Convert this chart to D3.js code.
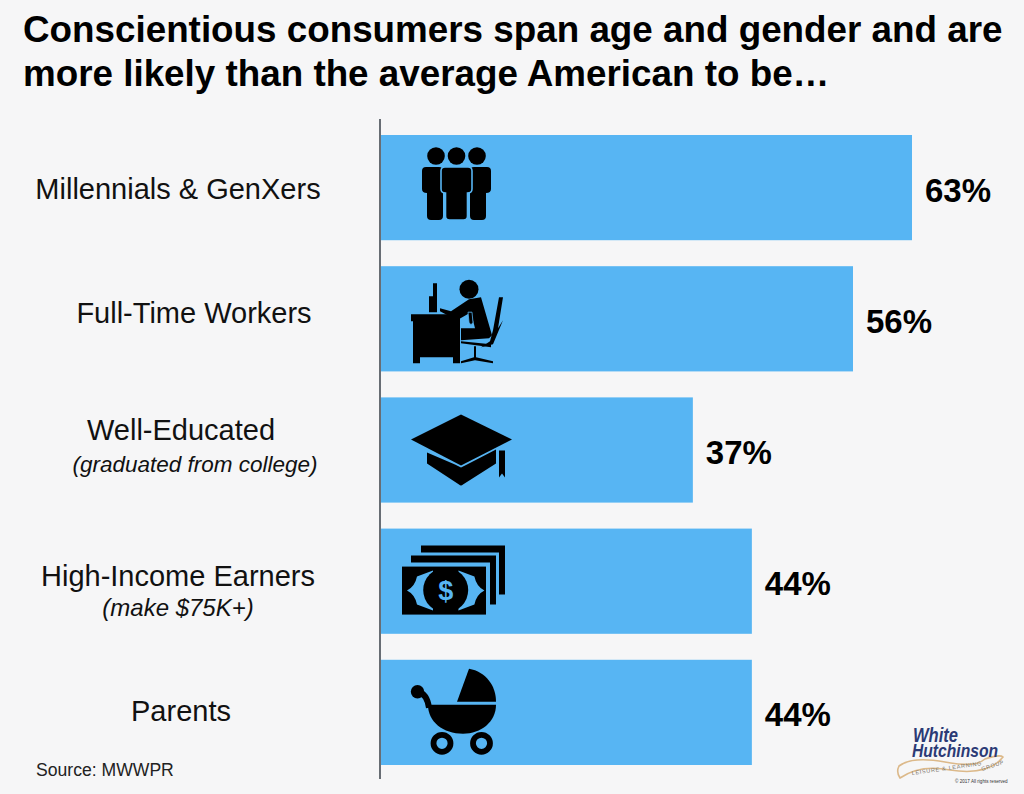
<!DOCTYPE html>
<html>
<head>
<meta charset="utf-8">
<script src="https://cdn.jsdelivr.net/npm/d3@7"></script>
<style>
  html, body { margin: 0; padding: 0; background: #f6f6f7; }
  svg { display: block; font-family: "Liberation Sans", Arial, sans-serif; }
</style>
</head>
<body>
<div id="chart"></div>
<script>
const titleLines = [
  "Conscientious consumers span age and gender and are",
  "more likely than the average American to be…"
]
const categories = ["Millennials & GenXers", "Full-Time Workers", "Well-Educated", "High-Income Earners", "Parents"]
const subLabels = ["", "", "(graduated from college)", "(make $75K+)", ""]
const values = [63, 56, 37, 44, 44]
const iconNames = ["people", "worker", "cap", "money", "pram"]

const width = 1024
const height = 794
const blue = "#57b5f3"

const svg = d3.select("#chart").append("svg")
  .attr("width", width)
  .attr("height", height)

svg.append("rect").attr("width", width).attr("height", height).attr("fill", "#f6f6f7")

svg.selectAll("text.title")
  .data(titleLines)
  .join("text")
  .attr("class", "title")
  .attr("x", 23)
  .attr("y", (d, i) => 42 + i * 44)
  .attr("font-size", 36.8)
  .attr("font-weight", "bold")
  .attr("fill", "#000")
  .text(d => d)

const x = d3.scaleLinear().domain([0, 63]).range([381, 912])
const y = d3.scaleBand().domain(categories).range([135, 765]).paddingInner(0.198)

svg.selectAll("rect.bar")
  .data(categories)
  .join("rect")
  .attr("class", "bar")
  .attr("x", x(0))
  .attr("y", d => y(d))
  .attr("width", (d, i) => x(values[i]) - x(0))
  .attr("height", y.bandwidth())
  .attr("fill", blue)

// axis line only, labels are centred by hand below
svg.append("line")
  .attr("x1", 380).attr("x2", 380)
  .attr("y1", 119).attr("y2", 779)
  .attr("stroke", "#444b52")
  .attr("stroke-width", 1.6)

svg.selectAll("text.value")
  .data(categories)
  .join("text")
  .attr("class", "value")
  .attr("x", (d, i) => x(values[i]) + 13)
  .attr("y", d => y(d) + y.bandwidth() / 2 + 14)
  .attr("font-size", 33)
  .attr("font-weight", "bold")
  .text((d, i) => values[i] + "%")

// label centres and baselines differ per row in the original slide
const labelCentre = [178, 194, 181, 178, 181]
const labelBase = [199, 323, 440, 586, 721]
const subCentre = [0, 0, 195, 178, 0]
const subBase = [0, 0, 472, 616, 0]
const subSize = [0, 0, 22.5, 24, 0]

svg.selectAll("text.label")
  .data(categories)
  .join("text")
  .attr("class", "label")
  .attr("x", (d, i) => labelCentre[i])
  .attr("y", (d, i) => labelBase[i])
  .attr("text-anchor", "middle")
  .attr("font-size", 29)
  .attr("fill", "#111")
  .text(d => d)

svg.selectAll("text.sub")
  .data(categories.filter((d, i) => subLabels[i]))
  .join("text")
  .attr("class", "sub")
  .attr("x", d => subCentre[categories.indexOf(d)])
  .attr("y", d => subBase[categories.indexOf(d)])
  .attr("text-anchor", "middle")
  .attr("font-size", d => subSize[categories.indexOf(d)])
  .attr("font-style", "italic")
  .attr("fill", "#111")
  .text(d => subLabels[categories.indexOf(d)])

svg.append("text")
  .attr("x", 36).attr("y", 776)
  .attr("font-size", 17.6)
  .attr("fill", "#222")
  .text("Source: MWWPR")

// icons, each path in its own box relative to the top left of its bar
const icons = {
  people(g) {
    // torso plus legs, legs inset on the outer side only for the side figures
    const person = (l, r, insetL, insetR, outline) => {
      const a = l + insetL
      const b = r - insetR
      const shape = g.append("path").attr("d",
        `M${l},36Q${l},32 ${l + 4},32H${r - 4}Q${r},32 ${r},36V54Q${r},58 ${b},58V81Q${b},85 ${b - 4},85H${a + 4}Q${a},85 ${a},81V58Q${l},58 ${l},54Z`)
      if (outline) shape.attr("stroke", blue).attr("stroke-width", 1.6)
    }
    person(41, 62, 5, 0, false)
    person(89, 110, 0, 5, false)
    person(60, 91, 4.5, 4.5, true)
    g.selectAll("circle").data([55, 75.5, 96]).join("circle")
      .attr("cx", d => d).attr("cy", 21).attr("r", 8.8)
  },
  worker(g) {
    // desk, drawers and legs
    g.append("path").attr("d", "M30,48H79V55H79V97H72V91H39V97H32V55H30Z")
    // monitor
    g.append("path").attr("d", "M52,17H56V46H52Z M48,30H52V46H48Z")
    // head and body
    g.append("circle").attr("cx", 88).attr("cy", 23).attr("r", 9.5)
    g.append("path").attr("d", "M59,42L70,45L88,33L100,31L111,69L108,72L80,74V62L94,62L90,46L76,54L59,45Z")
    g.append("path").attr("d", "M87,46H91L92,56L90,59L88,56Z").attr("fill", "#000").attr("stroke", blue).attr("stroke-width", 0.8)
    // chair
    g.append("path").attr("d", "M118,31H122L117,62L122,54L112,78L100,81L109,75L112,64Z")
    g.append("path").attr("d", "M80,75L110,78V81L80,77Z")
    g.append("path").attr("d", "M93,80H95V91L112,95V97L94,94L80,97V95L93,91Z")
  },
  cap(g) {
    g.append("path").attr("d", "M80,17L131,42L80,68L30,42Z")
    g.append("path").attr("d", "M46,55L74,67L80,70L86,67L115,52V66L82,87Q80,89 78,87L46,66Z")
    g.append("path").attr("d", "M118,53H124V80L121,76L118,80Z")
  },
  money(g) {
    g.append("path").attr("d", "M40,17H124V66H118V24H40Z")
    g.append("path").attr("d", "M30,27H115V76H109V34H30Z")
    g.append("rect").attr("x", 21).attr("y", 38).attr("width", 84).attr("height", 48)
    // blue shapes either side of the coin, mirrored about the coin centre
    g.append("path").attr("d", "M26,62Q34,58 36,48L52,42V82L36,76Q34,66 26,62Z").attr("fill", blue)
    g.append("path").attr("d", "M103.4,62Q95.4,58 93.4,48L77.4,42V82L93.4,76Q95.4,66 103.4,62Z").attr("fill", blue)
    g.append("circle").attr("cx", 64.7).attr("cy", 61.5).attr("r", 22.5)
    g.append("text").attr("x", 64.7).attr("y", 71).attr("text-anchor", "middle")
      .attr("font-size", 27).attr("font-weight", "bold").attr("fill", blue).text("$")
  },
  pram(g) {
    g.append("path").attr("d", "M88,9C105,12 115,26 115,42H76Z")
    g.append("path").attr("d", "M47,45H115C115,62 100,74 82,74C62,74 47,62 47,45Z")
    g.append("path").attr("d", "M37,32Q46,34 48,48").attr("fill", "none").attr("stroke", "#000").attr("stroke-width", 6)
    g.append("circle").attr("cx", 36.5).attr("cy", 32).attr("r", 6.7)
    g.selectAll(null).data([61, 100.5]).join("circle")
      .attr("cx", d => d).attr("cy", 83.5).attr("r", 8.5)
      .attr("fill", "none").attr("stroke", "#000").attr("stroke-width", 5.8)
  }
}

iconNames.forEach((name, i) => {
  const g = svg.append("g")
    .attr("transform", `translate(${x(0)},${y(categories[i])})`)
    .attr("fill", "#000")
  icons[name](g)
})

// logo
const logo = svg.append("g")
logo.append("path")
  .attr("d", "M899,766Q912,756 945,762Q975,768 985,759Q1000,754 1003,757Q988,776 950,770Q920,764 900,778Q896,772 899,766Z")
  .attr("fill", "#f6f6f7").attr("stroke", "#dcb98a").attr("stroke-width", 1.6)
logo.append("text").attr("x", 913).attr("y", 742)
  .attr("font-size", 21).attr("font-weight", "bold").attr("font-style", "italic")
  .attr("fill", "#2b3a75").attr("textLength", 45).attr("lengthAdjust", "spacingAndGlyphs").text("White")
logo.append("text").attr("x", 912).attr("y", 757)
  .attr("font-size", 19).attr("font-weight", "bold").attr("font-style", "italic")
  .attr("fill", "#2b3a75").attr("textLength", 86).attr("lengthAdjust", "spacingAndGlyphs").text("Hutchinson")
logo.append("text").attr("x", 912).attr("y", 775)
  .attr("font-size", 5.5).attr("fill", "#77746b").attr("letter-spacing", 0.7)
  .attr("transform", "rotate(-8 912 775)").text("LEISURE & LEARNING")
logo.append("text").attr("x", 982).attr("y", 771)
  .attr("font-size", 5.5).attr("fill", "#77746b").attr("letter-spacing", 0.7)
  .attr("transform", "rotate(-18 982 771)").text("GROUP")
logo.append("text").attr("x", 955).attr("y", 783)
  .attr("font-size", 4.6).attr("fill", "#333").text("© 2017 All rights reserved")
</script>
</body>
</html>
